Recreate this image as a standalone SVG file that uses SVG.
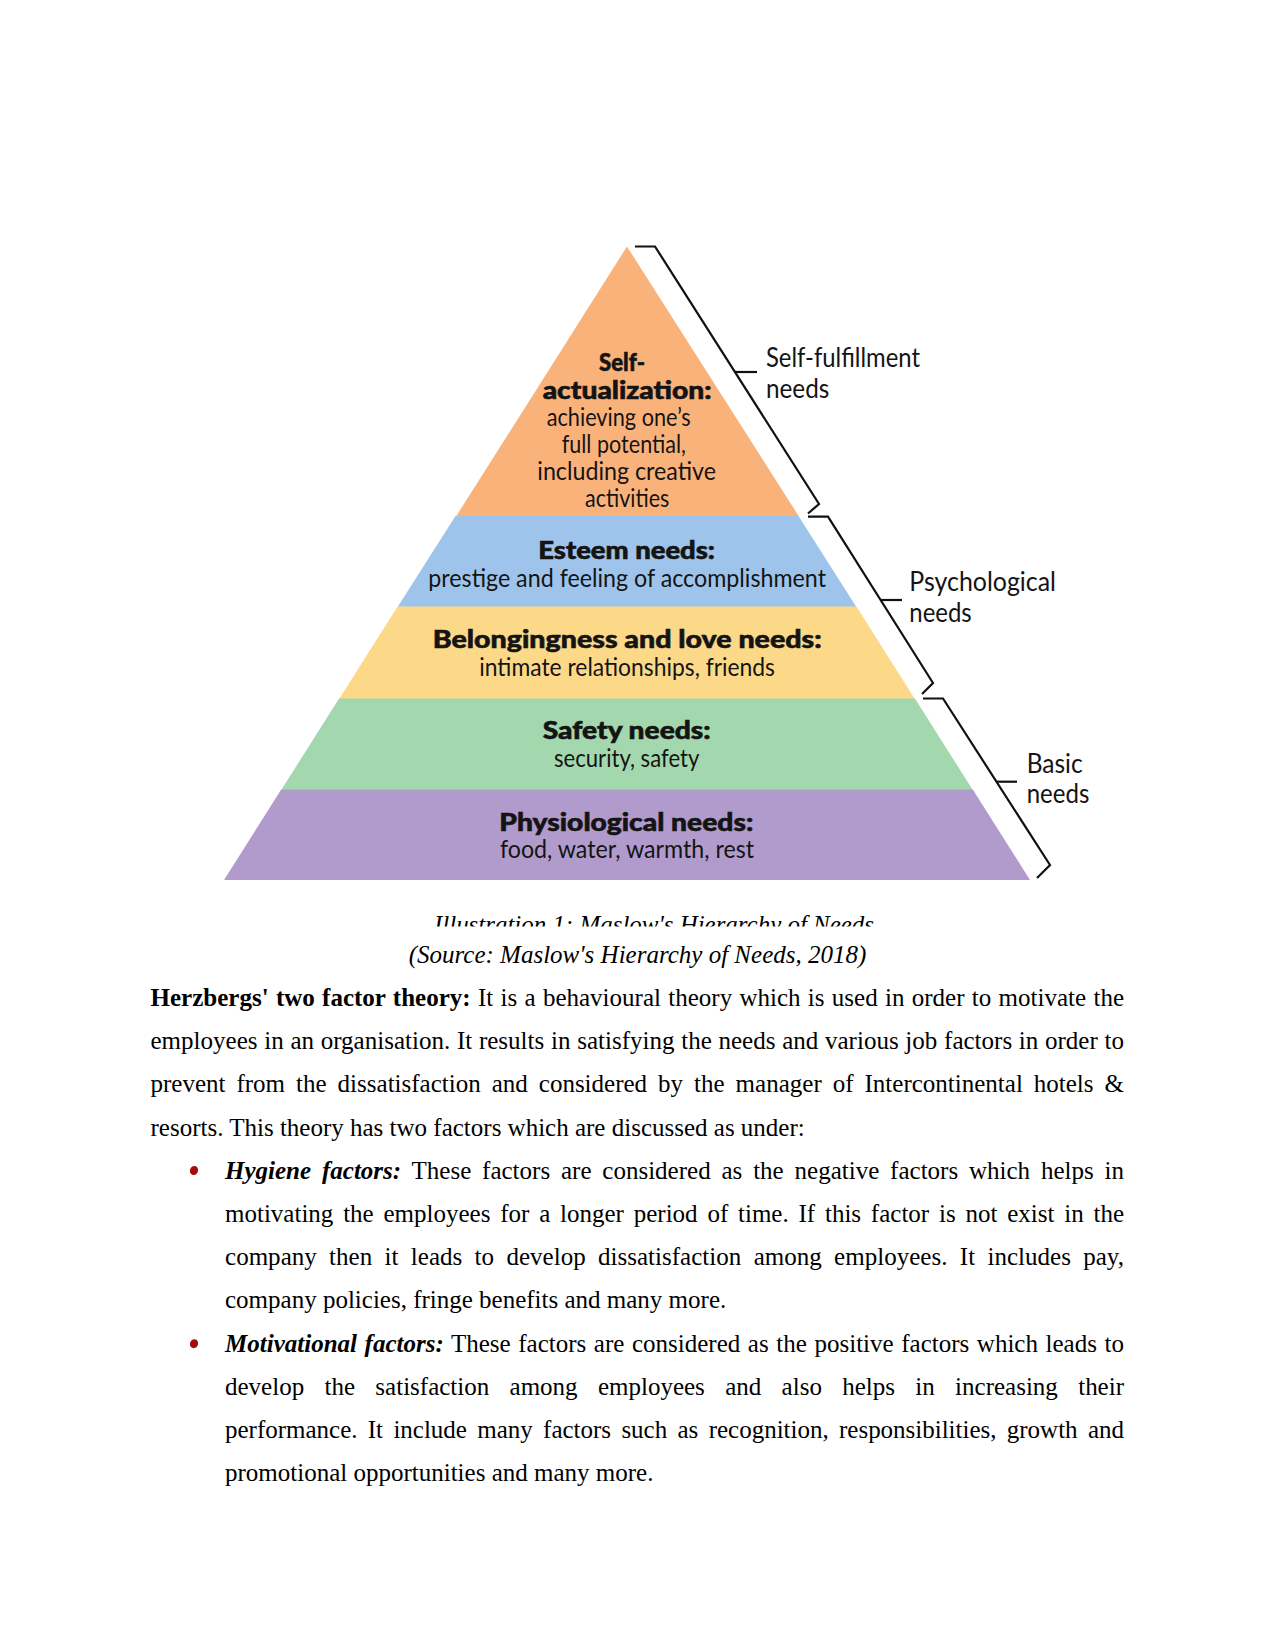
<svg xmlns="http://www.w3.org/2000/svg" width="1275" height="1651" viewBox="0 0 1275 1651">
<style>
.pb{font-family:Lato,"Open Sans","DejaVu Sans",sans-serif;font-weight:900;font-size:25px;fill:#141414;stroke:#141414;stroke-width:0.6}
.pr{font-family:Lato,"Open Sans","DejaVu Sans",sans-serif;font-weight:400;font-size:25.5px;fill:#141414}
.lb{font-family:Lato,"Open Sans","DejaVu Sans",sans-serif;font-weight:400;font-size:27px;fill:#141414}
.br{fill:none;stroke:#111;stroke-width:2.2;stroke-linejoin:miter}
.body{font-family:"Liberation Serif","Times New Roman",serif;font-size:25px;fill:#000}
.cap{font-family:"Liberation Serif","Times New Roman",serif;font-size:25px;font-style:italic;fill:#000}
.b{font-weight:700}
.bi{font-weight:700;font-style:italic}
.bul{fill:#a30d0d}
</style>
<defs>
<clipPath id="capclip"><rect x="0" y="900" width="1275" height="26.5"/></clipPath>
</defs>

<g id="level-self-actualization">
<polygon points="627,246.5 456,516.5 799,516.5" fill="#FAB27B"/>
<text class="pb" x="599" y="370.7" textLength="46" lengthAdjust="spacingAndGlyphs">Self-</text>
<text class="pb" x="542.7" y="399" textLength="169" lengthAdjust="spacingAndGlyphs">actualization:</text>
<text class="pr" x="546.7" y="426" textLength="144" lengthAdjust="spacingAndGlyphs">achieving one’s</text>
<text class="pr" x="561.7" y="453.3" textLength="124.3" lengthAdjust="spacingAndGlyphs">full potential,</text>
<text class="pr" x="537.3" y="480" textLength="178.7" lengthAdjust="spacingAndGlyphs">including creative</text>
<text class="pr" x="585" y="506.7" textLength="84.3" lengthAdjust="spacingAndGlyphs">activities</text>
</g>

<g id="level-esteem">
<polygon points="455.5,516 798.5,516 856.4,607 397.6,607" fill="#9EC4EC"/>
<text class="pb" x="538.3" y="559" textLength="176.7" lengthAdjust="spacingAndGlyphs">Esteem needs:</text>
<text class="pr" x="428.3" y="586.7" textLength="397.7" lengthAdjust="spacingAndGlyphs">prestige and feeling of accomplishment</text>
</g>

<g id="level-belongingness">
<polygon points="397.6,606.6 856.4,606.6 914.9,699 339.1,699" fill="#FCD989"/>
<text class="pb" x="432.7" y="648.3" textLength="389" lengthAdjust="spacingAndGlyphs">Belongingness and love needs:</text>
<text class="pr" x="479.3" y="675.7" textLength="295.7" lengthAdjust="spacingAndGlyphs">intimate relationships, friends</text>
</g>

<g id="level-safety">
<polygon points="339.1,698.6 914.9,698.6 972.8,790 281.2,790" fill="#A3D7AD"/>
<text class="pb" x="542.7" y="739" textLength="168" lengthAdjust="spacingAndGlyphs">Safety needs:</text>
<text class="pr" x="554" y="766.7" textLength="145.3" lengthAdjust="spacingAndGlyphs">security, safety</text>
</g>

<g id="level-physiological">
<polygon points="281.2,789.6 972.8,789.6 1030,880 224,880" fill="#B19BCD"/>
<text class="pb" x="499.3" y="831" textLength="254" lengthAdjust="spacingAndGlyphs">Physiological needs:</text>
<text class="pr" x="500" y="858.3" textLength="254" lengthAdjust="spacingAndGlyphs">food, water, warmth, rest</text>
</g>

<g id="connectors">
<path class="br" d="M635,246.5 L655,246.5 L819,504 L808,513.5"/>
<path class="br" d="M735,372 L757,372"/>
<path class="br" d="M808,516.7 L828,516.7 L933,683 L922,694"/>
<path class="br" d="M880.6,600 L902,600"/>
<path class="br" d="M923,698.5 L943,698.5 L1050,865 L1037,878"/>
<path class="br" d="M996.5,781.7 L1017,781.7"/>
</g>

<g id="label-self-fulfillment">
<text class="lb" x="766" y="366.7" textLength="154" lengthAdjust="spacingAndGlyphs">Self-fulfillment</text>
<text class="lb" x="766" y="398.3" textLength="63.3" lengthAdjust="spacingAndGlyphs">needs</text>
</g>
<g id="label-psychological">
<text class="lb" x="909.3" y="590.7" textLength="146.7" lengthAdjust="spacingAndGlyphs">Psychological</text>
<text class="lb" x="909.3" y="621.7" textLength="62.4" lengthAdjust="spacingAndGlyphs">needs</text>
</g>
<g id="label-basic">
<text class="lb" x="1026.7" y="773.3" textLength="56" lengthAdjust="spacingAndGlyphs">Basic</text>
<text class="lb" x="1026.7" y="803.3" textLength="62.6" lengthAdjust="spacingAndGlyphs">needs</text>
</g>

<g id="caption">
<text class="cap" x="434" y="933" textLength="440" lengthAdjust="spacingAndGlyphs" clip-path="url(#capclip)">Illustration 1: Maslow's Hierarchy of Needs</text>
<text class="cap" x="637.5" y="962.7" text-anchor="middle">(Source: Maslow's Hierarchy of Needs, 2018)</text>
</g>

<g id="body">
<text class="body" x="150.5" y="1006" word-spacing="1.05" textLength="973.5" lengthAdjust="spacing"><tspan class="b">Herzbergs' two factor theory:</tspan> It is a behavioural theory which is used in order to motivate the</text>
<text class="body" x="150.5" y="1049.2" word-spacing="0.48" textLength="973.5" lengthAdjust="spacing">employees in an organisation. It results in satisfying the needs and various job factors in order to</text>
<text class="body" x="150.5" y="1092.4" word-spacing="4.75" textLength="973.5" lengthAdjust="spacing">prevent from the dissatisfaction and considered by the manager of Intercontinental hotels &amp;</text>
<text class="body" x="150.5" y="1135.6">resorts. This theory has two factors which are discussed as under:</text>

<ellipse class="bul" cx="194" cy="1170.5" rx="4" ry="4.6" transform="rotate(25 194 1170.5)"/>
<text class="body" x="225" y="1178.8" word-spacing="4.57" textLength="899" lengthAdjust="spacing"><tspan class="bi">Hygiene factors:</tspan> These factors are considered as the negative factors which helps in</text>
<text class="body" x="225" y="1222" word-spacing="3.54" textLength="899" lengthAdjust="spacing">motivating the employees for a longer period of time. If this factor is not exist in the</text>
<text class="body" x="225" y="1265.2" word-spacing="6.04" textLength="899" lengthAdjust="spacing">company then it leads to develop dissatisfaction among employees. It includes pay,</text>
<text class="body" x="225" y="1308.4">company policies, fringe benefits and many more.</text>

<ellipse class="bul" cx="194" cy="1343.7" rx="4" ry="4.6" transform="rotate(25 194 1343.7)"/>
<text class="body" x="225" y="1351.6" word-spacing="1.33" textLength="899" lengthAdjust="spacing"><tspan class="bi">Motivational factors:</tspan> These factors are considered as the positive factors which leads to</text>
<text class="body" x="225" y="1394.8" word-spacing="14.08" textLength="899" lengthAdjust="spacing">develop the satisfaction among employees and also helps in increasing their</text>
<text class="body" x="225" y="1438" word-spacing="4.09" textLength="899" lengthAdjust="spacing">performance. It include many factors such as recognition, responsibilities, growth and</text>
<text class="body" x="225" y="1481.2">promotional opportunities and many more.</text>
</g>
</svg>
